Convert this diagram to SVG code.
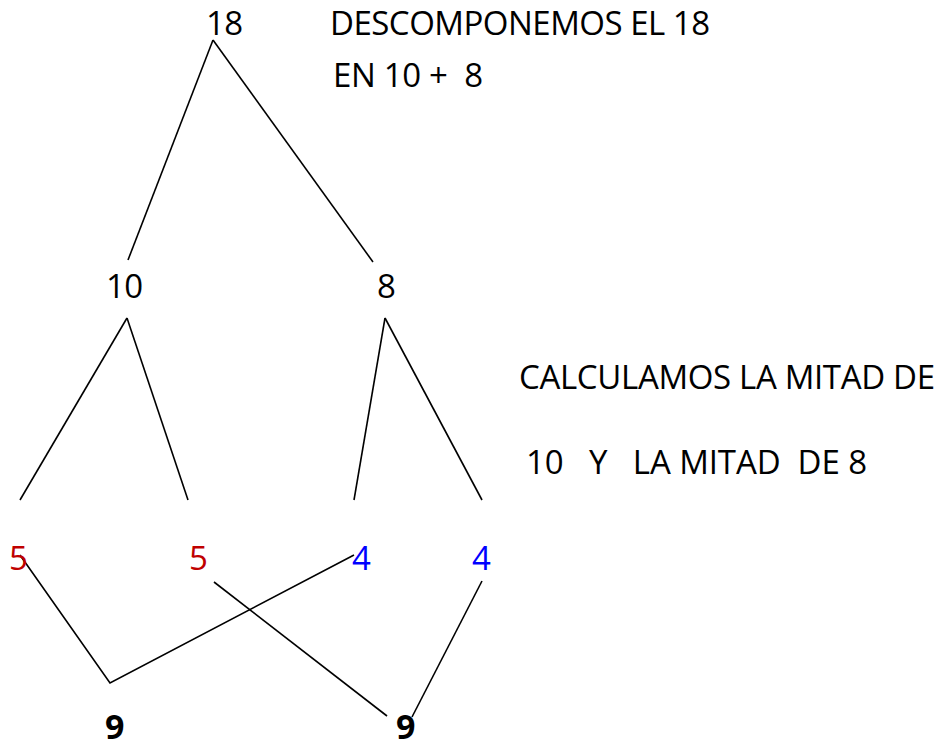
<svg xmlns="http://www.w3.org/2000/svg" width="943" height="747" viewBox="0 0 943 747">
<style>
text{font-family:"Open Sans","Noto Sans","Liberation Sans",sans-serif;font-size:33px;fill:#000}
.r{fill:#C00000}
.b{fill:#0000FF}
.bold{font-weight:bold;font-size:34px}
#connectors line{stroke:#000;stroke-width:1.6;fill:none}
</style>
<rect width="943" height="747" fill="#fff"/>
<g id="connectors">
<line x1="213" y1="40" x2="128" y2="260"/>
<line x1="213" y1="40" x2="373" y2="262"/>
<line x1="127" y1="318" x2="20" y2="500"/>
<line x1="127" y1="318" x2="188" y2="500"/>
<line x1="385" y1="318" x2="354" y2="500"/>
<line x1="385" y1="318" x2="482" y2="500"/>
<polyline points="20,555 110,683 354,555" style="stroke:#000;stroke-width:1.6;fill:none"/>
<line x1="214" y1="582" x2="387" y2="716"/>
<line x1="482" y1="581" x2="412" y2="717"/>
</g>
<g id="n18"><text x="206" y="35" textLength="37">18</text></g>
<g id="note1"><text x="330" y="35" textLength="380">DESCOMPONEMOS EL 18</text><text x="333" y="87" xml:space="preserve" textLength="150">EN 10 +  8</text></g>
<g id="n10"><text x="106" y="298" textLength="37">10</text></g>
<g id="n8"><text x="377" y="298">8</text></g>
<g id="note2"><text x="519" y="389" textLength="416">CALCULAMOS LA MITAD DE</text><text x="526" y="474" xml:space="preserve" textLength="341">10   Y   LA MITAD  DE 8</text></g>
<g id="n5a"><text class="r" x="9" y="570">5</text></g>
<g id="n5b"><text class="r" x="189" y="570">5</text></g>
<g id="n4a"><text class="b" x="352" y="570">4</text></g>
<g id="n4b"><text class="b" x="472" y="570">4</text></g>
<g id="n9a"><text class="bold" x="105" y="739">9</text></g>
<g id="n9b"><text class="bold" x="396" y="739">9</text></g>
</svg>
